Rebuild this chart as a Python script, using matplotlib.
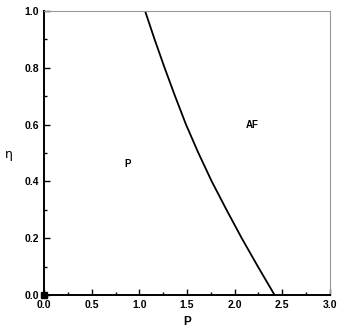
#!/usr/bin/env python3
"""Phase diagram eta vs P with P / AF boundary."""
import matplotlib
matplotlib.use('Agg')
import matplotlib.pyplot as plt
from matplotlib.ticker import MultipleLocator

# Boundary line
eta_vals = [1.0, 0.9, 0.8, 0.7, 0.6, 0.5, 0.4, 0.3, 0.2, 0.1, 0.0]
p_vals = [1.06, 1.16, 1.265, 1.375, 1.49, 1.62, 1.76, 1.915, 2.075, 2.245, 2.42]

x_ticks = [0.0, 0.5, 1.0, 1.5, 2.0, 2.5, 3.0]
y_ticks = [0.0, 0.2, 0.4, 0.6, 0.8, 1.0]

# Region labels (P, eta, text)
regions = [(0.88, 0.46, 'P'), (2.19, 0.60, 'AF')]

plt.rcParams['font.family'] = ['Liberation Sans', 'DejaVu Sans']

fig = plt.figure(figsize=(3.39, 3.30), dpi=100)
ax = fig.add_axes([0.130, 0.106, 0.843, 0.861])

ax.plot(p_vals, eta_vals, color='black', lw=1.3)
ax.plot([0.0], [0.0], marker='s', color='black', ms=4, clip_on=False)

for x, y, s in regions:
    ax.text(x, y, s, fontsize=7, fontweight='bold', ha='center', va='center')

ax.set_xlim(0, 3.0)
ax.set_ylim(0, 1.0)
ax.set_xticks(x_ticks)
ax.set_yticks(y_ticks)
ax.set_xticklabels([f'{v:.1f}' for v in x_ticks])
ax.set_yticklabels([f'{v:.1f}' for v in y_ticks])
ax.xaxis.set_minor_locator(MultipleLocator(0.25))
ax.yaxis.set_minor_locator(MultipleLocator(0.1))
ax.tick_params(which='both', direction='in', top=False, right=False,
               labelsize=7.5, width=1.0)
ax.tick_params(which='major', length=4)
ax.tick_params(which='minor', length=2)
for lab in ax.get_xticklabels() + ax.get_yticklabels():
    lab.set_fontweight('bold')

ax.spines['left'].set_linewidth(1.4)
ax.spines['bottom'].set_linewidth(1.4)
for side in ('top', 'right'):
    ax.spines[side].set_linewidth(0.8)
    ax.spines[side].set_color('#999999')

ax.set_xlabel('P', fontsize=8.5, fontweight='bold')
ax.xaxis.set_label_coords(0.5, -0.075)
ax.set_ylabel('η', fontsize=9, rotation=0, family=['DejaVu Sans'])
ax.yaxis.set_label_coords(-0.125, 0.47)

fig.savefig('out.png', dpi=100)
